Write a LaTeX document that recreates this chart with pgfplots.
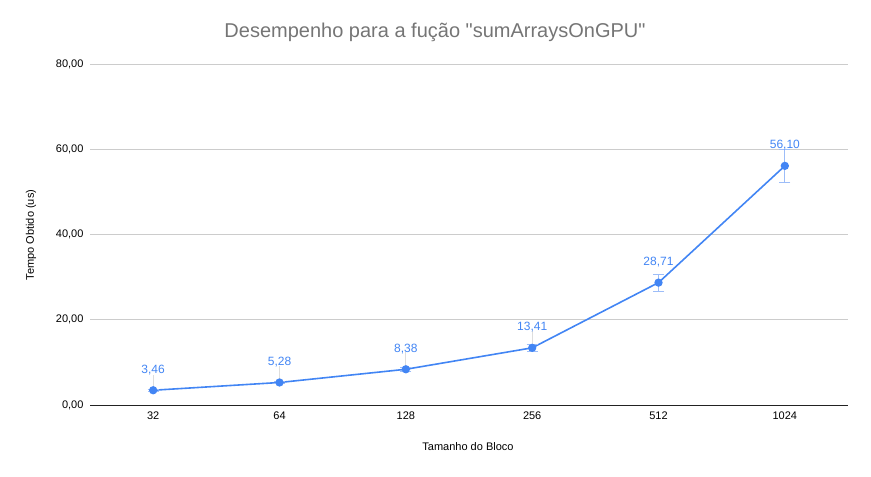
\documentclass[border=0pt]{standalone}
\usepackage{pgfplots}
\pgfplotsset{compat=1.18}
\usepackage{fontspec}
\setmainfont{Liberation Sans}
\definecolor{lblue}{HTML}{4285F4}
\definecolor{ebar}{HTML}{9DBDF8}
\definecolor{lead}{HTML}{DDDDDD}
\definecolor{gridc}{HTML}{CCCCCC}
\definecolor{titlec}{HTML}{757575}
\definecolor{axc}{HTML}{222222}
\begin{document}
\begin{tikzpicture}[x=1bp,y=1bp]
\path (0,0) rectangle (871,477);
\begin{axis}[
  at={(90bp,72bp)}, anchor=south west,
  scale only axis, width=758bp, height=341bp,
  xmin=-0.5, xmax=5.5, ymin=0, ymax=80,
  xtick={0,1,2,3,4,5},
  xticklabels={32,64,128,256,512,1024},
  ytick={0,20,40,60,80},
  axis x line*=bottom, axis y line*=left,
  x axis line style={draw=axc, line width=0.9bp},
  y axis line style={draw=none},
  major tick length=0pt,
  ymajorgrids, grid style={draw=gridc, line width=0.7bp},
  tick label style={font=\fontsize{11bp}{13bp}\selectfont, text=black},
  yticklabel style={xshift=-3bp},
  xticklabel style={yshift=-3bp},
  /pgf/number format/assume math mode=true,
  yticklabel={\pgfmathprintnumber[use comma,fixed,fixed zerofill,precision=2,1000 sep={}]{\tick}},
  clip=false,
]
% leader lines from points to labels
\addplot[draw=none, forget plot,
  error bars/.cd, y dir=plus, y explicit,
  error bar style={draw=lead, line width=0.7bp},
  error mark=none]
  coordinates {(0,3.46) +- (0,3.6) (1,5.28) +- (0,3.8) (2,8.38) +- (0,4.0) (3,13.41) +- (0,3.9)};
% main series with error bars
\addplot[color=lblue, line width=1.6bp, mark=*, mark size=3.3bp,
  mark options={fill=lblue, draw=lblue},
  error bars/.cd, y dir=both, y explicit,
  error bar style={draw=ebar, line width=0.8bp},
  error mark options={rotate=90, mark size=5.5bp, draw=ebar, line width=0.8bp},
]
  coordinates {
    (0,3.46) +- (0,0.3)
    (1,5.28) +- (0,0.25)
    (2,8.38) +- (0,0.4)
    (3,13.41) +- (0,0.8)
    (4,28.71) +- (0,2.0)
    (5,56.10) +- (0,3.85)
  };
% data labels
\addplot[draw=none, mark=none,
  nodes near coords={\pgfmathprintnumber[use comma,fixed,fixed zerofill,precision=2]{\pgfplotspointmeta}},
  every node near coord/.append style={anchor=base, inner sep=0pt, yshift=17bp,
    font=\fontsize{12bp}{14bp}\selectfont, text=lblue},
]
  coordinates {(0,3.46) (1,5.28) (2,8.38) (3,13.41) (4,28.71) (5,56.10)};
\end{axis}
\node[text=titlec, font=\fontsize{20bp}{24bp}\selectfont] at (435,445) {Desempenho para a fução \textquotedbl sumArraysOnGPU\textquotedbl};
\node[font=\fontsize{11bp}{13bp}\selectfont, rotate=90] at (31,242) {Tempo Obtido (us)};
\node[font=\fontsize{11bp}{13bp}\selectfont] at (468,30) {Tamanho do Bloco};
\end{tikzpicture}
\end{document}
